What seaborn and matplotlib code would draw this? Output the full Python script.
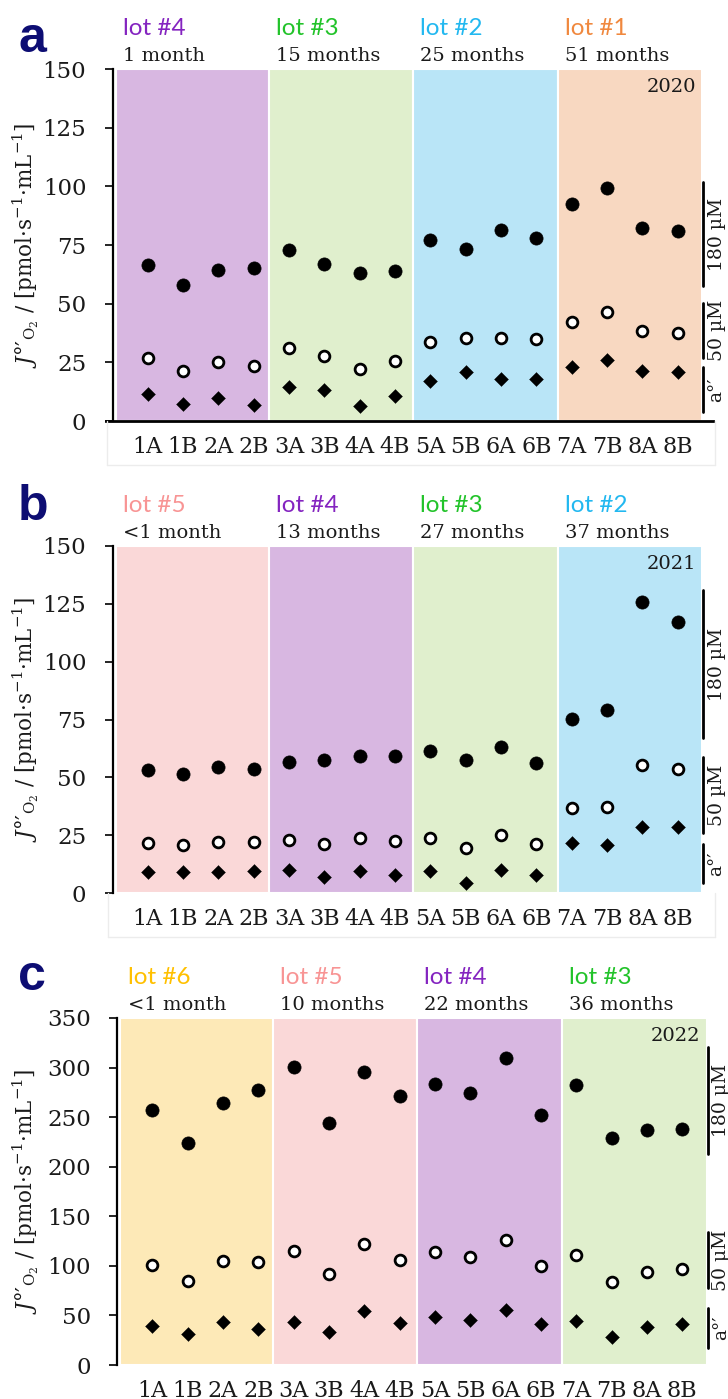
import numpy as np
import pandas as pd
import matplotlib
matplotlib.use("Agg")
import matplotlib.pyplot as plt
import seaborn as sns

# ---------------- data ----------------
samples = ["1A", "1B", "2A", "2B", "3A", "3B", "4A", "4B",
           "5A", "5B", "6A", "6B", "7A", "7B", "8A", "8B"]

# panel a (2020)
a_180 = [66.4, 57.9, 64.3, 65.1, 72.8, 67.1, 63.1, 64.0,
         77.3, 73.1, 81.3, 78.1, 92.3, 99.1, 82.3, 80.9]
a_50 = [26.9, 21.3, 25.0, 23.3, 30.9, 27.9, 22.0, 25.6,
        33.6, 35.5, 35.5, 35.0, 42.1, 46.4, 38.4, 37.5]
a_a0 = [11.5, 7.3, 9.8, 6.8, 14.5, 13.1, 6.3, 10.5,
        16.9, 20.9, 17.8, 18.1, 22.9, 26.0, 21.5, 20.8]

# panel b (2021)
b_180 = [53.3, 51.4, 54.4, 53.7, 56.6, 57.3, 59.3, 59.3,
         61.2, 57.6, 63.3, 56.3, 75.4, 79.0, 125.7, 117.3]
b_50 = [21.6, 20.6, 22.0, 22.0, 23.0, 21.0, 23.6, 22.6,
        23.9, 19.4, 24.9, 21.3, 36.6, 37.3, 55.3, 53.4]
b_a0 = [9.2, 8.9, 9.2, 9.6, 9.9, 6.9, 9.6, 7.9,
        9.6, 4.3, 10.1, 7.6, 21.6, 20.9, 28.5, 28.5]

# panel c (2022)
c_180 = [257.5, 223.5, 264.2, 277.0, 300.2, 243.7, 295.5, 271.0,
         283.7, 274.7, 310.0, 252.4, 282.4, 228.5, 237.0, 238.3]
c_50 = [100.6, 85.2, 105.4, 103.7, 115.1, 92.2, 121.8, 106.0,
        113.8, 109.4, 126.2, 100.0, 110.7, 83.8, 93.6, 96.9]
c_a0 = [39.7, 31.3, 43.8, 36.4, 43.8, 33.7, 54.9, 42.1,
        48.1, 45.4, 55.5, 41.4, 44.8, 27.9, 38.7, 41.4]

years = ["2020", "2021", "2022"]
panel_letters = ["a", "b", "c"]
lots_a = ["lot #4", "lot #3", "lot #2", "lot #1"]
lots_b = ["lot #5", "lot #4", "lot #3", "lot #2"]
lots_c = ["lot #6", "lot #5", "lot #4", "lot #3"]
months_a = ["1 month", "15 months", "25 months", "51 months"]
months_b = ["<1 month", "13 months", "27 months", "37 months"]
months_c = ["<1 month", "10 months", "22 months", "36 months"]

# bracket ranges (180 µM, 50 µM, a°) per panel
br_a = [(57.5, 101.8), (26.8, 50.3), (3.8, 23.0)]
br_b = [(67.0, 131.0), (25.9, 58.8), (4.3, 21.2)]
br_c = [(213.0, 321.0), (77.7, 134.0), (17.0, 57.5)]
br_labels = ["180 µM", "50 µM", "a°′"]

ymax = [150, 150, 350]
ystep = [25, 25, 50]

shade_col = {"lot #1": "#F8D8C1", "lot #2": "#B9E5F7", "lot #3": "#E0EFCD",
             "lot #4": "#D8B7E1", "lot #5": "#FAD8D8", "lot #6": "#FDE9B7"}
text_col = {"lot #1": "#F0883E", "lot #2": "#22B8F0", "lot #3": "#22C32A",
            "lot #4": "#8424C0", "lot #5": "#F89494", "lot #6": "#FFC000"}

# ---------------- style ----------------
sns.set_style("white")
plt.rcParams["font.family"] = ["DejaVu Serif", "DejaVu Sans"]
plt.rcParams["mathtext.fontset"] = "dejavuserif"

W, H = 728, 1399
fig = plt.figure(figsize=(W / 100, H / 100), dpi=100)

# layout (pixels): left, top, bottom
rects = [(112.7, 69, 421), (112.7, 546, 893), (117.3, 1018, 1365)]
ax_w_px = 600.3
XL = (-0.99, 16.0)
SPAN_EDGES = [-0.9, 3.42, 7.5, 11.6, 15.7]

panels = [
    (a_180, a_50, a_a0, lots_a, months_a, br_a),
    (b_180, b_50, b_a0, lots_b, months_b, br_b),
    (c_180, c_50, c_a0, lots_c, months_c, br_c),
]

x = np.arange(len(samples))

for i, (s180, s50, sa0, lots, months, brs) in enumerate(panels):
    left, top, bot = rects[i]
    ax = fig.add_axes([left / W, 1 - bot / H, ax_w_px / W, (bot - top) / H])
    ax.set_xlim(*XL)
    ax.set_ylim(0, ymax[i])

    # shaded lot regions
    for k, lot in enumerate(lots):
        ax.axvspan(SPAN_EDGES[k], SPAN_EDGES[k + 1], ymin=0, ymax=1,
                   facecolor=shade_col[lot], edgecolor="white", linewidth=1.5, zorder=0)
        ax.annotate(lot, xy=(SPAN_EDGES[k] + 0.2, 1), xycoords=("data", "axes fraction"),
                    xytext=(0, 29), textcoords="offset points", ha="left", va="center",
                    fontsize=17.5, family=["Lato", "DejaVu Sans"], color=text_col[lot])
        ax.annotate(months[k], xy=(SPAN_EDGES[k] + 0.2, 1), xycoords=("data", "axes fraction"),
                    xytext=(0, 9.5), textcoords="offset points", ha="left", va="center",
                    fontsize=14, color="#1a1a1a")

    df = pd.DataFrame({"x": x, "s180": s180, "s50": s50, "sa0": sa0})
    sns.scatterplot(data=df, x="x", y="s180", ax=ax, marker="o", s=90,
                    color="black", edgecolor="black", linewidth=0.5, legend=False, zorder=3)
    sns.scatterplot(data=df, x="x", y="s50", ax=ax, marker="o", s=60,
                    color="white", edgecolor="black", linewidth=2.0, legend=False, zorder=3)
    sns.scatterplot(data=df, x="x", y="sa0", ax=ax, marker="D", s=50,
                    color="black", edgecolor="black", linewidth=0.3, legend=False, zorder=3)

    # brackets on the right
    for (lo, hi), lab in zip(brs, br_labels):
        ax.plot([15.72, 15.72], [lo, hi], color="black", lw=2, clip_on=False, zorder=4)
        ax.text(16.1, (lo + hi) / 2, lab, rotation=90, ha="center", va="center",
                fontsize=13.5, color="#1a1a1a", clip_on=False)

    ax.text(15.52, ymax[i] * (1 - 18 / (bot - top)), years[i], ha="right", va="center",
            fontsize=14, color="#1a1a1a")

    ax.set_yticks(np.arange(0, ymax[i] + 1, ystep[i]))
    ax.set_xticks(x)
    ax.set_xticklabels(samples)
    ax.tick_params(axis="y", direction="out", length=6, width=1.2, pad=13,
                   labelsize=16.5, colors="black", left=True)
    ax.tick_params(axis="x", length=0, pad=10.5, labelsize=16, colors="black")
    for lab in ax.get_yticklabels() + ax.get_xticklabels():
        lab.set_color("#1a1a1a")
    ax.set_xlabel("")
    ax.set_ylabel("")
    for sp in ["top", "right"]:
        ax.spines[sp].set_visible(False)
    ax.spines["left"].set_color("black")
    ax.spines["left"].set_linewidth(1.6)
    if i == 0:
        ax.spines["bottom"].set_color("black")
        ax.spines["bottom"].set_linewidth(2)
        ax.spines["bottom"].set_bounds(XL[0] - 0.2, XL[1])
    else:
        ax.spines["bottom"].set_visible(False)

    # y label
    fig.text(26 / W, 1 - (top + bot) / 2 / H,
             r"$J$°′$_{\mathrm{O_2}}$ / [pmol·s$^{-1}$·mL$^{-1}$]",
             rotation=90, ha="center", va="center", fontsize=15.5, color="#1a1a1a")

    # panel letter
    base = [52, 520, 990][i]
    fig.text(18 / W, 1 - base / H, panel_letters[i], ha="left", va="baseline",
             fontsize=36, fontweight="bold", family=["Liberation Sans", "DejaVu Sans"],
             color="#0d0d73")

# faint boxes around the category labels
for (x0, x1, y0, y1) in [(107, 715, 421, 465), (108, 715, 893, 937)]:
    fig.add_artist(plt.Line2D([x0 / W, x0 / W], [1 - y0 / H, 1 - y1 / H], color="#ececec", lw=1))
    fig.add_artist(plt.Line2D([x1 / W, x1 / W], [1 - y0 / H, 1 - y1 / H], color="#ececec", lw=1))
    fig.add_artist(plt.Line2D([x0 / W, x1 / W], [1 - y1 / H, 1 - y1 / H], color="#ececec", lw=1))

fig.savefig("out.png", dpi=100, facecolor="white")
